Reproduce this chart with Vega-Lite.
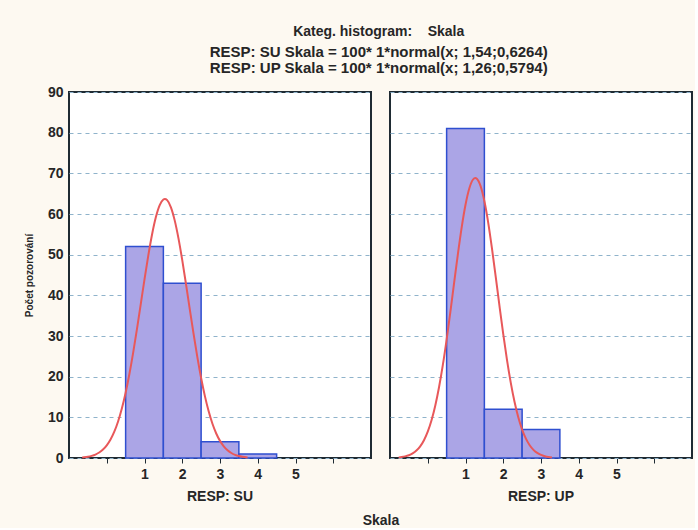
{
  "$schema": "https://vega.github.io/schema/vega-lite/v6.json",
  "background": "#fdf9f1",
  "padding": {"left": 24, "top": 25, "right": 2, "bottom": 0},
  "config": {
    "font": "Liberation Sans",
    "view": {"stroke": "#1f2b33", "strokeWidth": 2, "fill": "white"}
  },
  "title": {
    "text": "Kateg. histogram:\u00a0\u00a0\u00a0\u00a0Skala",
    "subtitle": [
      "RESP: SU Skala = 100* 1*normal(x; 1,54;0,6264)",
      "RESP: UP Skala = 100* 1*normal(x; 1,26;0,5794)"
    ],
    "fontSize": 14,
    "fontWeight": "bold",
    "color": "#262626",
    "subtitleFontSize": 15,
    "subtitleFontWeight": "bold",
    "subtitleColor": "#262626",
    "subtitlePadding": 6,
    "subtitleLineHeight": 16,
    "offset": 9,
    "anchor": "middle",
    "dx": 20
  },
  "data": {
    "values": [
      {"resp": "RESP: SU", "kind": "bar", "start": 0.5, "end": 1.5, "count": 52},
      {"resp": "RESP: SU", "kind": "bar", "start": 1.5, "end": 2.5, "count": 43},
      {"resp": "RESP: SU", "kind": "bar", "start": 2.5, "end": 3.5, "count": 4},
      {"resp": "RESP: SU", "kind": "bar", "start": 3.5, "end": 4.5, "count": 1},
      {"resp": "RESP: UP", "kind": "bar", "start": 0.5, "end": 1.5, "count": 81},
      {"resp": "RESP: UP", "kind": "bar", "start": 1.5, "end": 2.5, "count": 12},
      {"resp": "RESP: UP", "kind": "bar", "start": 2.5, "end": 3.5, "count": 7},

      {"resp": "RESP: SU", "kind": "curve", "x": -0.65, "density": 0.14},
      {"resp": "RESP: SU", "kind": "curve", "x": -0.6, "density": 0.19},
      {"resp": "RESP: SU", "kind": "curve", "x": -0.5, "density": 0.32},
      {"resp": "RESP: SU", "kind": "curve", "x": -0.4, "density": 0.53},
      {"resp": "RESP: SU", "kind": "curve", "x": -0.3, "density": 0.85},
      {"resp": "RESP: SU", "kind": "curve", "x": -0.2, "density": 1.35},
      {"resp": "RESP: SU", "kind": "curve", "x": -0.1, "density": 2.07},
      {"resp": "RESP: SU", "kind": "curve", "x": 0.0, "density": 3.1},
      {"resp": "RESP: SU", "kind": "curve", "x": 0.1, "density": 4.54},
      {"resp": "RESP: SU", "kind": "curve", "x": 0.2, "density": 6.46},
      {"resp": "RESP: SU", "kind": "curve", "x": 0.3, "density": 8.98},
      {"resp": "RESP: SU", "kind": "curve", "x": 0.4, "density": 12.16},
      {"resp": "RESP: SU", "kind": "curve", "x": 0.5, "density": 16.05},
      {"resp": "RESP: SU", "kind": "curve", "x": 0.6, "density": 20.66},
      {"resp": "RESP: SU", "kind": "curve", "x": 0.7, "density": 25.92},
      {"resp": "RESP: SU", "kind": "curve", "x": 0.8, "density": 31.7},
      {"resp": "RESP: SU", "kind": "curve", "x": 0.9, "density": 37.79},
      {"resp": "RESP: SU", "kind": "curve", "x": 1.0, "density": 43.92},
      {"resp": "RESP: SU", "kind": "curve", "x": 1.1, "density": 49.77},
      {"resp": "RESP: SU", "kind": "curve", "x": 1.2, "density": 54.97},
      {"resp": "RESP: SU", "kind": "curve", "x": 1.3, "density": 59.18},
      {"resp": "RESP: SU", "kind": "curve", "x": 1.4, "density": 62.12},
      {"resp": "RESP: SU", "kind": "curve", "x": 1.5, "density": 63.56},
      {"resp": "RESP: SU", "kind": "curve", "x": 1.54, "density": 63.69},
      {"resp": "RESP: SU", "kind": "curve", "x": 1.6, "density": 63.4},
      {"resp": "RESP: SU", "kind": "curve", "x": 1.7, "density": 61.65},
      {"resp": "RESP: SU", "kind": "curve", "x": 1.8, "density": 58.43},
      {"resp": "RESP: SU", "kind": "curve", "x": 1.9, "density": 54.0},
      {"resp": "RESP: SU", "kind": "curve", "x": 2.0, "density": 48.64},
      {"resp": "RESP: SU", "kind": "curve", "x": 2.1, "density": 42.71},
      {"resp": "RESP: SU", "kind": "curve", "x": 2.2, "density": 36.56},
      {"resp": "RESP: SU", "kind": "curve", "x": 2.3, "density": 30.51},
      {"resp": "RESP: SU", "kind": "curve", "x": 2.4, "density": 24.82},
      {"resp": "RESP: SU", "kind": "curve", "x": 2.5, "density": 19.68},
      {"resp": "RESP: SU", "kind": "curve", "x": 2.6, "density": 15.21},
      {"resp": "RESP: SU", "kind": "curve", "x": 2.7, "density": 11.47},
      {"resp": "RESP: SU", "kind": "curve", "x": 2.8, "density": 8.42},
      {"resp": "RESP: SU", "kind": "curve", "x": 2.9, "density": 6.03},
      {"resp": "RESP: SU", "kind": "curve", "x": 3.0, "density": 4.21},
      {"resp": "RESP: SU", "kind": "curve", "x": 3.1, "density": 2.87},
      {"resp": "RESP: SU", "kind": "curve", "x": 3.2, "density": 1.9},
      {"resp": "RESP: SU", "kind": "curve", "x": 3.3, "density": 1.23},
      {"resp": "RESP: SU", "kind": "curve", "x": 3.4, "density": 0.78},
      {"resp": "RESP: SU", "kind": "curve", "x": 3.5, "density": 0.48},
      {"resp": "RESP: SU", "kind": "curve", "x": 3.6, "density": 0.29},
      {"resp": "RESP: SU", "kind": "curve", "x": 3.73, "density": 0.14},

      {"resp": "RESP: UP", "kind": "curve", "x": -0.77, "density": 0.15},
      {"resp": "RESP: UP", "kind": "curve", "x": -0.7, "density": 0.23},
      {"resp": "RESP: UP", "kind": "curve", "x": -0.6, "density": 0.4},
      {"resp": "RESP: UP", "kind": "curve", "x": -0.5, "density": 0.68},
      {"resp": "RESP: UP", "kind": "curve", "x": -0.4, "density": 1.14},
      {"resp": "RESP: UP", "kind": "curve", "x": -0.3, "density": 1.84},
      {"resp": "RESP: UP", "kind": "curve", "x": -0.2, "density": 2.88},
      {"resp": "RESP: UP", "kind": "curve", "x": -0.1, "density": 4.38},
      {"resp": "RESP: UP", "kind": "curve", "x": 0.0, "density": 6.47},
      {"resp": "RESP: UP", "kind": "curve", "x": 0.1, "density": 9.28},
      {"resp": "RESP: UP", "kind": "curve", "x": 0.2, "density": 12.92},
      {"resp": "RESP: UP", "kind": "curve", "x": 0.3, "density": 17.45},
      {"resp": "RESP: UP", "kind": "curve", "x": 0.4, "density": 22.88},
      {"resp": "RESP: UP", "kind": "curve", "x": 0.5, "density": 29.13},
      {"resp": "RESP: UP", "kind": "curve", "x": 0.6, "density": 35.99},
      {"resp": "RESP: UP", "kind": "curve", "x": 0.7, "density": 43.16},
      {"resp": "RESP: UP", "kind": "curve", "x": 0.8, "density": 50.24},
      {"resp": "RESP: UP", "kind": "curve", "x": 0.9, "density": 56.77},
      {"resp": "RESP: UP", "kind": "curve", "x": 1.0, "density": 62.26},
      {"resp": "RESP: UP", "kind": "curve", "x": 1.1, "density": 66.27},
      {"resp": "RESP: UP", "kind": "curve", "x": 1.2, "density": 68.48},
      {"resp": "RESP: UP", "kind": "curve", "x": 1.26, "density": 68.85},
      {"resp": "RESP: UP", "kind": "curve", "x": 1.3, "density": 68.69},
      {"resp": "RESP: UP", "kind": "curve", "x": 1.4, "density": 66.87},
      {"resp": "RESP: UP", "kind": "curve", "x": 1.5, "density": 63.19},
      {"resp": "RESP: UP", "kind": "curve", "x": 1.6, "density": 57.96},
      {"resp": "RESP: UP", "kind": "curve", "x": 1.7, "density": 51.6},
      {"resp": "RESP: UP", "kind": "curve", "x": 1.8, "density": 44.6},
      {"resp": "RESP: UP", "kind": "curve", "x": 1.9, "density": 37.41},
      {"resp": "RESP: UP", "kind": "curve", "x": 2.0, "density": 30.46},
      {"resp": "RESP: UP", "kind": "curve", "x": 2.1, "density": 24.07},
      {"resp": "RESP: UP", "kind": "curve", "x": 2.2, "density": 18.47},
      {"resp": "RESP: UP", "kind": "curve", "x": 2.3, "density": 13.75},
      {"resp": "RESP: UP", "kind": "curve", "x": 2.4, "density": 9.94},
      {"resp": "RESP: UP", "kind": "curve", "x": 2.5, "density": 6.97},
      {"resp": "RESP: UP", "kind": "curve", "x": 2.6, "density": 4.75},
      {"resp": "RESP: UP", "kind": "curve", "x": 2.7, "density": 3.14},
      {"resp": "RESP: UP", "kind": "curve", "x": 2.8, "density": 2.01},
      {"resp": "RESP: UP", "kind": "curve", "x": 2.9, "density": 1.25},
      {"resp": "RESP: UP", "kind": "curve", "x": 3.0, "density": 0.76},
      {"resp": "RESP: UP", "kind": "curve", "x": 3.1, "density": 0.45},
      {"resp": "RESP: UP", "kind": "curve", "x": 3.2, "density": 0.25},
      {"resp": "RESP: UP", "kind": "curve", "x": 3.29, "density": 0.15}
    ]
  },
  "facet": {
    "column": {
      "field": "resp",
      "type": "nominal",
      "title": "Skala",
      "header": {
        "labelOrient": "bottom",
        "titleOrient": "bottom",
        "labelFontSize": 14,
        "labelFontWeight": "bold",
        "labelColor": "#262626",
        "labelPadding": 9,
        "titleFontSize": 14,
        "titleFontWeight": "bold",
        "titleColor": "#262626",
        "titlePadding": 0
      }
    }
  },
  "spacing": 17,
  "spec": {
    "width": 302,
    "height": 366,
    "layer": [
      {
        "transform": [{"filter": "datum.kind == 'bar'"}],
        "mark": {"type": "rect", "fill": "#aba5e6", "stroke": "#2f4fd0", "strokeWidth": 1.5},
        "encoding": {
          "x": {
            "field": "start",
            "type": "quantitative",
            "scale": {"domain": [-1, 7], "nice": false, "zero": false},
            "axis": {
              "title": null,
              "values": [0, 1, 2, 3, 4, 5, 6],
              "labelExpr": "datum.value >= 1 && datum.value <= 5 ? datum.label : ''",
              "domain": false,
              "grid": false,
              "tickSize": -5,
              "tickColor": "#1f2b33",
              "labelPadding": 9,
              "labelFontSize": 14,
              "labelFontWeight": "bold",
              "labelColor": "#262626"
            }
          },
          "x2": {"field": "end"},
          "y": {
            "field": "count",
            "type": "quantitative",
            "scale": {"domain": [0, 90], "nice": false},
            "axis": {
              "title": "Počet pozorování",
              "titleFontSize": 10,
              "titleFontWeight": "bold",
              "titleColor": "#262626",
              "titlePadding": 13,
              "values": [0, 10, 20, 30, 40, 50, 60, 70, 80, 90],
              "domain": false,
              "tickSize": -5,
              "tickColor": "#1f2b33",
              "labelPadding": 10,
              "labelFontSize": 14,
              "labelFontWeight": "bold",
              "labelColor": "#262626",
              "grid": true,
              "gridDash": [4, 4],
              "gridColor": "#8fb3cb",
              "gridWidth": 1
            }
          },
          "y2": {"datum": 0}
        }
      },
      {
        "transform": [{"filter": "datum.kind == 'curve'"}],
        "mark": {"type": "line", "color": "#e8585a", "strokeWidth": 2, "interpolate": "monotone"},
        "encoding": {
          "x": {
            "field": "x",
            "type": "quantitative",
            "axis": {
              "orient": "top",
              "title": null,
              "values": [0, 1, 2, 3, 4, 5, 6],
              "labels": false,
              "domain": false,
              "grid": false,
              "tickSize": -5,
              "tickColor": "#1f2b33"
            }
          },
          "y": {"field": "density", "type": "quantitative"}
        }
      }
    ],
    "resolve": {"axis": {"x": "independent"}}
  }
}
